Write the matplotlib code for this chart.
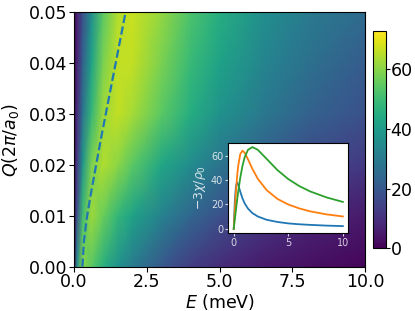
import numpy as np
import matplotlib
matplotlib.use('Agg')
import matplotlib.pyplot as plt

# energias (meV) y momentos Q (2pi/a0) de la malla del mapa
E_grid = [0.0, 0.1, 0.3, 0.6, 1.0, 1.5, 2.0, 3.0, 4.0, 5.0, 6.5, 8.0, 10.0]
Q_grid = [0.0, 0.01, 0.02, 0.03, 0.04, 0.05]

# valores del mapa, una fila por Q
chi_q000 = [0, 35, 60, 54, 46, 37, 30, 20, 13, 9, 5, 3, 1]
chi_q010 = [0, 18, 50, 62, 56, 48, 42, 32, 24, 18, 12, 8, 5]
chi_q020 = [0, 12, 38, 58, 64, 60, 54, 43, 35, 28, 21, 16, 12]
chi_q030 = [0, 9, 28, 48, 62, 66, 63, 54, 45, 37, 29, 23, 18]
chi_q040 = [0, 7, 22, 42, 58, 66, 66, 58, 49, 42, 33, 27, 21]
chi_q050 = [0, 6, 18, 36, 54, 64, 67, 61, 52, 45, 36, 30, 25]

# linea discontinua (posicion del maximo)
peak_Q = [0.0, 0.005, 0.01, 0.015, 0.02, 0.025, 0.03, 0.035, 0.04, 0.045, 0.05]
peak_E = [0.29, 0.34, 0.45, 0.60, 0.76, 0.92, 1.09, 1.26, 1.43, 1.60, 1.77]

# curvas del recuadro
E_in = [0, 0.1, 0.2, 0.3, 0.4, 0.6, 0.8, 1.0, 1.3, 1.7, 2.2, 3, 4, 5, 6, 7, 8.5, 10]
chi_blue = [0, 22.8, 35.1, 38.0, 36.5, 30.4, 25.0, 20.9, 16.7, 13.0, 10.2, 7.5, 5.7, 4.5, 3.8, 3.3, 2.7, 2.3]
chi_orange = [0, 15.8, 30.1, 42.1, 51.2, 61.4, 64.0, 62.4, 57.1, 49.3, 41.1, 31.9, 24.6, 20.0, 16.8, 14.4, 11.9, 10.2]
chi_green = [0, 7.9, 15.5, 22.9, 29.9, 42.1, 51.6, 58.6, 64.7, 67.0, 64.8, 57.5, 48.2, 40.8, 35.1, 30.7, 25.8, 22.1]

Z = np.array([chi_q000, chi_q010, chi_q020, chi_q030, chi_q040, chi_q050])

fig = plt.figure(figsize=(4.15, 3.11), dpi=100)
ax = fig.add_axes([0.1783, 0.1424, 0.702, 0.818])
mesh = ax.pcolormesh(E_grid, Q_grid, Z, shading='gouraud', cmap='viridis', vmin=0, vmax=72.7)
ax.plot(peak_E, peak_Q, '--', color='C0', lw=1.6)
ax.set_xlim(0, 10)
ax.set_ylim(0, 0.05)
ax.set_xticks([0, 2.5, 5, 7.5, 10])
ax.set_yticks([0, 0.01, 0.02, 0.03, 0.04, 0.05])
ax.tick_params(labelsize=12.5, pad=1)
ax.set_xlabel('$E$ (meV)', fontsize=12.5, labelpad=1)
ax.set_ylabel(r'$Q(2\pi/a_0)$', fontsize=12.5, labelpad=6)

cax = fig.add_axes([0.8995, 0.2016, 0.0306, 0.6987])
cb = fig.colorbar(mesh, cax=cax)
cb.set_ticks([0, 20, 40, 60])
cb.ax.tick_params(labelsize=12.5, length=2.7, pad=0.5)

# recuadro
lc = (1, 1, 1, 0.8)
ins = fig.add_axes([0.5501, 0.2508, 0.2892, 0.2894])
ins.plot(E_in, chi_blue, color='C0', lw=1.3)
ins.plot(E_in, chi_orange, color='C1', lw=1.3)
ins.plot(E_in, chi_green, color='C2', lw=1.3)
ins.set_xticks([0, 5, 10])
ins.set_yticks([0, 20, 40, 60])
ins.tick_params(labelsize=7, colors=lc, length=2.5, pad=1.2)
ins.set_ylabel(r'$-3\chi/\rho_0$', fontsize=9, color=lc, labelpad=2)

plt.savefig('out.png', dpi=100)
